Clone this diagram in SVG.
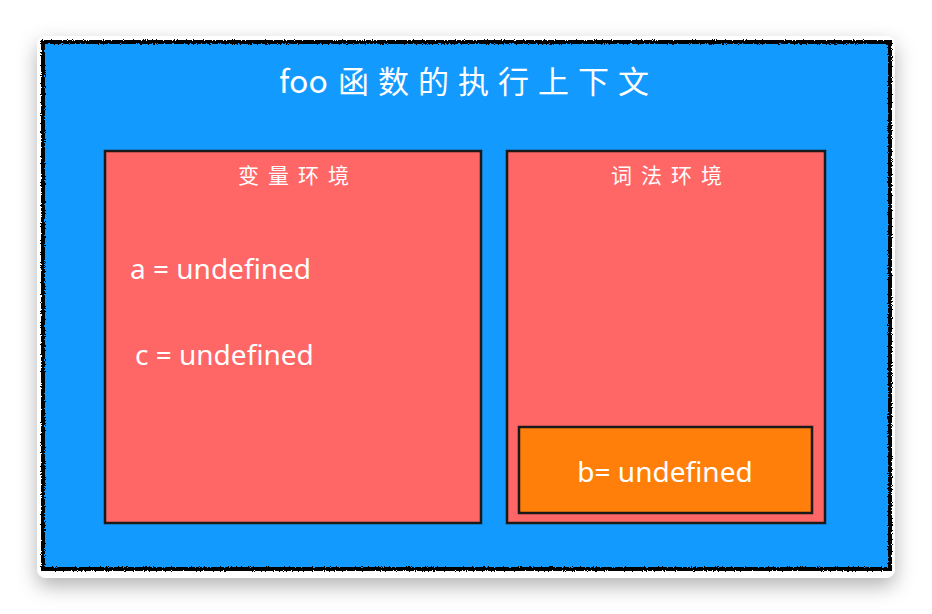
<svg xmlns="http://www.w3.org/2000/svg" width="932" height="614" viewBox="0 0 932 614">
<defs>
<filter id="shadow" x="-10%" y="-10%" width="120%" height="125%">
<feDropShadow dx="0" dy="8" stdDeviation="10" flood-color="#000" flood-opacity="0.3"/>
</filter>
<filter id="rough" x="-2%" y="-2%" width="104%" height="104%">
<feTurbulence type="fractalNoise" baseFrequency="0.9" numOctaves="2" seed="3" result="n"/>
<feDisplacementMap in="SourceGraphic" in2="n" scale="3.5"/>
</filter>
<style>
.t{font-family:"Noto Sans CJK SC","Noto Sans",sans-serif;fill:#fff}
.v{font-family:"Noto Sans","Liberation Sans",sans-serif;fill:#fff;font-size:28px}
.box{stroke:#1a1a1a;stroke-width:2.5}
</style>
</defs>
<rect x="37" y="36" width="858" height="542" rx="9" fill="#fff" filter="url(#shadow)"/>
<g id="context">
<rect x="43" y="42" width="847" height="527" fill="#129AFE"/>
<rect x="43" y="42" width="847" height="527" fill="none" stroke="#000" stroke-width="4" filter="url(#rough)"/>
<text class="t" x="279" y="93" font-size="32">foo<tspan x="338" font-size="31" letter-spacing="9">函数的执行上下文</tspan></text>
</g>
<g id="variable-env">
<rect class="box" x="105" y="151" width="376" height="372" fill="#FF6666"/>
<text class="t" x="298" y="183" font-size="21" text-anchor="middle" letter-spacing="9">变量环境</text>
<text class="v" x="130" y="279">a = undefined</text>
<text class="v" x="135" y="365">c = undefined</text>
</g>
<g id="lexical-env">
<rect class="box" x="507" y="151" width="318" height="372" fill="#FF6666"/>
<text class="t" x="671" y="183" font-size="21" text-anchor="middle" letter-spacing="9">词法环境</text>
</g>
<g id="b-var">
<rect class="box" x="519" y="427" width="293" height="86" fill="#FF7F0A"/>
<text class="v" x="665" y="482" text-anchor="middle">b= undefined</text>
</g>
<g id="connectors"></g>
</svg>
